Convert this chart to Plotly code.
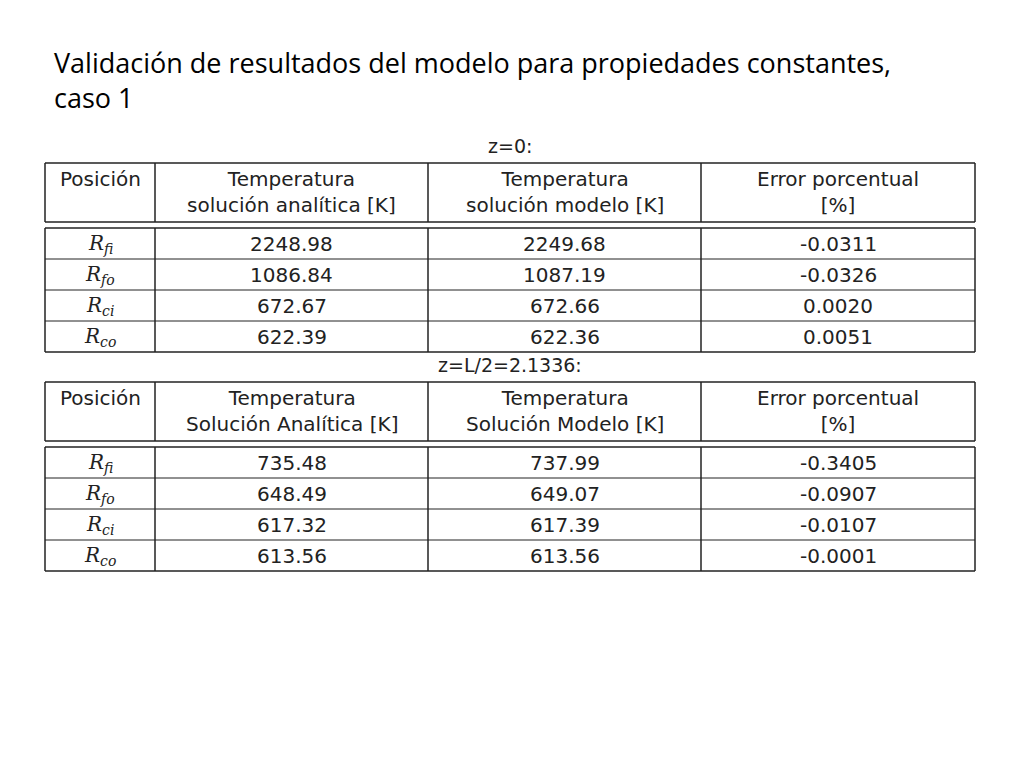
import plotly.graph_objects as go

title_text = "Validación de resultados del modelo para propiedades constantes,<br>caso 1"

positions = ["<i>R<sub>fi</sub></i>", "<i>R<sub>fo</sub></i>", "<i>R<sub>ci</sub></i>", "<i>R<sub>co</sub></i>"]

# table 1: z=0
caption1 = "z=0:"
headers1 = ["Posición", "Temperatura<br>solución analítica [K]", "Temperatura<br>solución modelo [K]", "Error porcentual<br>[%]"]
analitica1 = ["2248.98", "1086.84", "672.67", "622.39"]
modelo1 = ["2249.68", "1087.19", "672.66", "622.36"]
error1 = ["-0.0311", "-0.0326", "0.0020", "0.0051"]

# table 2: z=L/2
caption2 = "z=L/2=2.1336:"
headers2 = ["Posición", "Temperatura<br>Solución Analítica [K]", "Temperatura<br>Solución Modelo [K]", "Error porcentual<br>[%]"]
analitica2 = ["735.48", "648.49", "617.32", "613.56"]
modelo2 = ["737.99", "649.07", "617.39", "613.56"]
error2 = ["-0.3405", "-0.0907", "-0.0107", "-0.0001"]

# page body has an 8px margin, shift everything back by that
OFF = 8
col_edges = [x - OFF for x in [45, 155, 428, 701, 975]]
FONT = "DejaVu Sans"
INK = "#222"

fig = go.Figure()
shapes = []
annotations = []


def line(x0, y0, x1, y1, w=1.5):
    shapes.append(dict(type="line", xref="x", yref="y", x0=x0, y0=y0, x1=x1, y1=y1,
                       line=dict(color=INK, width=w)))


def draw_table(top, caption, headers, cols):
    annotations.append(dict(x=510 - OFF, y=top - 17, text=caption, showarrow=False,
                            font=dict(family=FONT, size=19, color=INK)))
    hb = top + 59
    # header box
    line(col_edges[0], top, col_edges[-1], top)
    line(col_edges[0], hb, col_edges[-1], hb)
    for x in col_edges:
        line(x, top, x, hb)
    for i, h in enumerate(headers):
        annotations.append(dict(x=(col_edges[i] + col_edges[i + 1]) / 2, y=top + 2, yanchor="top",
                                text=h, showarrow=False,
                                font=dict(family=FONT, size=20, color=INK)))
    # body
    bt = hb + 6
    rh = 31
    nrows = len(cols[0])
    bb = bt + rh * nrows
    line(col_edges[0], bt, col_edges[-1], bt)
    for r in range(1, nrows):
        line(col_edges[0], bt + rh * r, col_edges[-1], bt + rh * r, 1)
    line(col_edges[0], bb, col_edges[-1], bb)
    for x in col_edges:
        line(x, bt, x, bb)
    for c, vals in enumerate(cols):
        for r, v in enumerate(vals):
            annotations.append(dict(x=(col_edges[c] + col_edges[c + 1]) / 2, y=bt + rh * r + rh / 2,
                                    text=v, showarrow=False,
                                    font=dict(family="DejaVu Serif" if c == 0 else FONT,
                                              size=20, color=INK)))


draw_table(163 - OFF, caption1, headers1, [positions, analitica1, modelo1, error1])
draw_table(382 - OFF, caption2, headers2, [positions, analitica2, modelo2, error2])

annotations.append(dict(x=52 - OFF, y=80 - OFF, xanchor="left", yanchor="middle", align="left",
                        text=title_text, showarrow=False,
                        font=dict(family="Open Sans", size=27, color="#000")))

fig.update_layout(
    width=1024, height=768, margin=dict(l=0, r=0, t=0, b=0),
    paper_bgcolor="white", plot_bgcolor="white",
    xaxis=dict(range=[0, 1024], visible=False, fixedrange=True),
    yaxis=dict(range=[768, 0], visible=False, fixedrange=True),
    shapes=shapes, annotations=annotations, showlegend=False,
)

fig.write_html("out.html")
